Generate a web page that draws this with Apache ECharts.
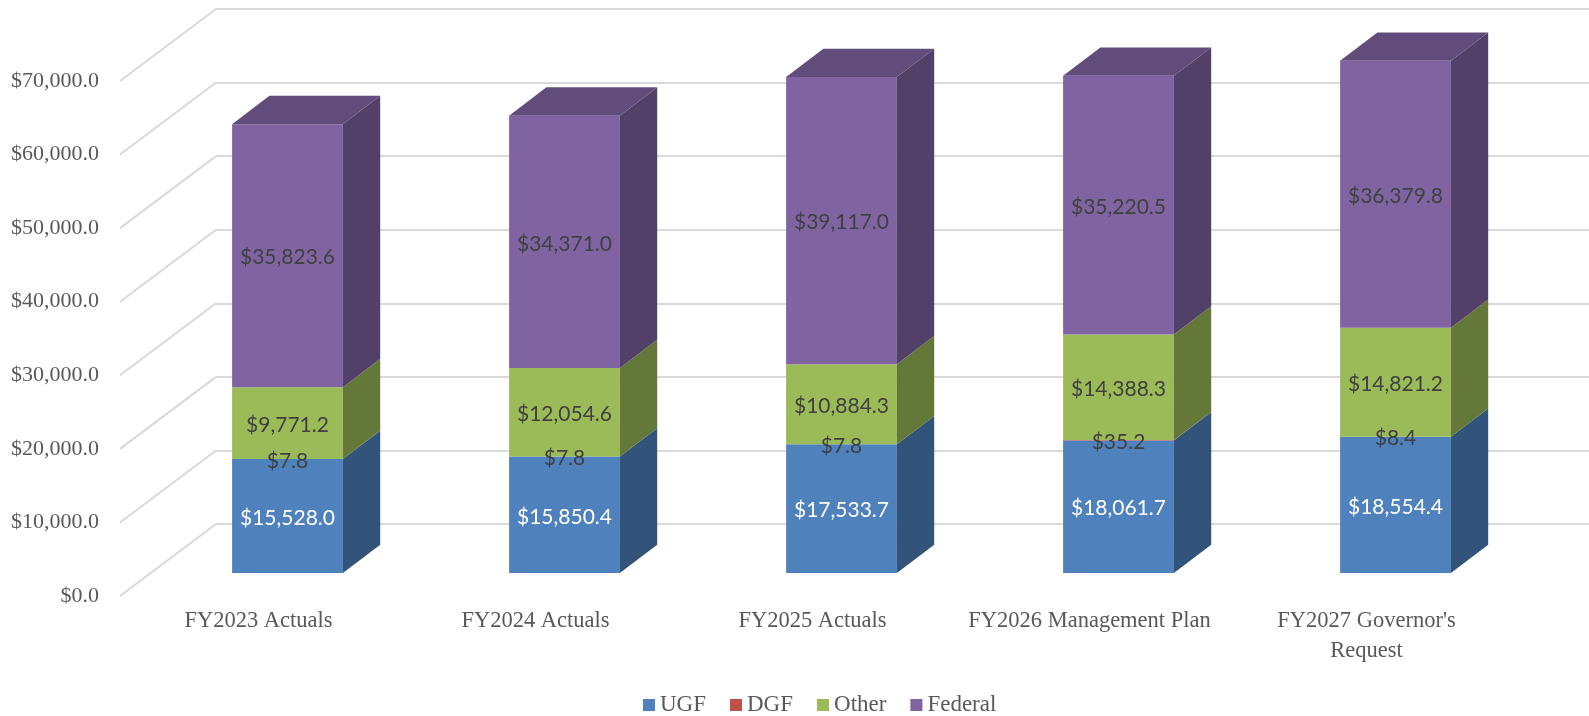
<!DOCTYPE html>
<html><head><meta charset="utf-8">
<script src="https://cdn.jsdelivr.net/npm/echarts@6/dist/echarts.min.js"></script>
<style>html,body{margin:0;padding:0;background:#fff}#c{width:1589px;height:716px}</style>
</head><body><div id="c"></div>
<script>
// ---- data ----
const categories = ['FY2023 Actuals', 'FY2024 Actuals', 'FY2025 Actuals', 'FY2026 Management Plan', "FY2027 Governor's Request"];
const seriesNames = ['UGF', 'DGF', 'Other', 'Federal'];
const ugf     = [15528.0, 15850.4, 17533.7, 18061.7, 18554.4];
const dgf     = [7.8, 7.8, 7.8, 35.2, 8.4];
const other   = [9771.2, 12054.6, 10884.3, 14388.3, 14821.2];
const federal = [35823.6, 34371.0, 39117.0, 35220.5, 36379.8];
const Y_MIN = 0, Y_MAX = 70000, Y_STEP = 10000;

// ---- style ----
const FRONT = ['#4F81BD', '#C0504D', '#9BBB59', '#8064A2'];
const SIDE  = ['#32537A', '#7B3331', '#637839', '#524068'];
const TOP   = ['#3B6190', '#923D3B', '#76903F', '#624C7B'];
const LABEL_COLOR = ['#FFFFFF', '#404040', '#404040', '#404040'];
const GRID_COLOR = '#D9D9D9';
const WALL_DX = 96, WALL_DY = -72;     // depth of the chart floor/side wall
const BAR_DX = 37.3, BAR_DY = -28.3;   // depth of each bar
const BAR_RATIO = 0.4;                 // bar width / category band
const LABEL_NUDGE = 2;                 // small downward shift of the data labels

const allSeries = [ugf, dgf, other, federal];
const fmt = v => '$' + v.toLocaleString('en-US', {minimumFractionDigits: 1, maximumFractionDigits: 1});

const bases = allSeries.map((s, k) => s.map((_, i) => {
  let b = 0; for (let j = 0; j < k; j++) b += allSeries[j][i]; return b;
}));

function barSeries(k) {
  const last = k === allSeries.length - 1;
  return {
    type: 'custom', name: seriesNames[k], xAxisIndex: 2, yAxisIndex: 2,
    itemStyle: {color: FRONT[k]},
    data: allSeries[k].map((v, i) => [i, bases[k][i], bases[k][i] + v, v]),
    encode: {x: 0, y: [1, 2]},
    renderItem(params, api) {
      const i = api.value(0);
      const lo = api.coord([i, api.value(1)]);
      const hi = api.coord([i, api.value(2)]);
      const w = api.size([1, 0])[0] * BAR_RATIO;
      const L = lo[0] - w / 2, R = lo[0] + w / 2, yb = lo[1], yt = hi[1];
      const children = [
        {type: 'rect', shape: {x: L, y: yt, width: w, height: yb - yt}, style: {fill: FRONT[k]}},
        {type: 'polygon', shape: {points: [[R, yb], [R + BAR_DX, yb + BAR_DY], [R + BAR_DX, yt + BAR_DY], [R, yt]]}, style: {fill: SIDE[k]}}
      ];
      if (last) {
        children.push({type: 'polygon', shape: {points: [[L, yt], [R, yt], [R + BAR_DX, yt + BAR_DY], [L + BAR_DX, yt + BAR_DY]]}, style: {fill: TOP[k]}});
      }
      children.push({type: 'text', z2: 50, style: {
        x: lo[0], y: (yb + yt) / 2 + LABEL_NUDGE, text: fmt(api.value(3)), align: 'center', verticalAlign: 'middle',
        fill: LABEL_COLOR[k], font: '21px Lato'}});
      return {type: 'group', children};
    }
  };
}

const ticks = [];
for (let v = Y_MIN; v <= Y_MAX; v += Y_STEP) ticks.push(v);

const serif = "'Liberation Serif', 'DejaVu Serif', serif";

const option = {
  animation: false,
  backgroundColor: '#fff',
  grid: [
    {left: 120, right: 84, top: 81, bottom: 120},   // front plane
    {left: 216, right: 0, top: 9, bottom: 192},     // back wall
    {left: 149, right: 55, top: 59, bottom: 143}    // bar plane
  ],
  xAxis: [
    {type: 'category', gridIndex: 0, data: categories, axisLine: {show: false}, axisTick: {show: false},
     axisLabel: {color: '#595959', fontFamily: serif, fontSize: 22.5, lineHeight: 30, margin: 10, interval: 0,
       formatter: v => v.length > 24 ? v.slice(0, v.lastIndexOf(' ')) + '\n' + v.slice(v.lastIndexOf(' ') + 1) : v}},
    {type: 'value', gridIndex: 1, show: false},
    {type: 'category', gridIndex: 2, data: categories, show: false}
  ],
  yAxis: [
    {type: 'value', gridIndex: 0, min: Y_MIN, max: Y_MAX, interval: Y_STEP, splitLine: {show: false},
     axisLine: {show: false}, axisTick: {show: false},
     axisLabel: {color: '#595959', fontFamily: serif, fontSize: 22, margin: 21, formatter: fmt}},
    {type: 'value', gridIndex: 1, min: Y_MIN, max: Y_MAX, interval: Y_STEP, axisLabel: {show: false},
     axisLine: {show: false}, axisTick: {show: false}, splitLine: {show: true, lineStyle: {color: GRID_COLOR, width: 2}}},
    {type: 'value', gridIndex: 2, min: Y_MIN, max: Y_MAX, show: false, splitLine: {show: false}}
  ],
  legend: {
    data: seriesNames, left: 643, top: 693, padding: 0, itemGap: 24, itemWidth: 12, itemHeight: 12, icon: 'rect',
    textStyle: {color: '#595959', fontFamily: serif, fontSize: 23, lineHeight: 24}
  },
  series: [
    {
      type: 'custom', xAxisIndex: 0, yAxisIndex: 0, silent: true, z: 1,
      data: ticks.map(v => [0, v]),
      renderItem(params, api) {
        const y = api.coord([0, api.value(1)])[1];
        const x0 = params.coordSys.x;
        return {type: 'line', shape: {x1: x0, y1: y, x2: x0 + WALL_DX, y2: y + WALL_DY},
                style: {stroke: GRID_COLOR, lineWidth: 2}};
      }
    },
    ...allSeries.map((_, k) => barSeries(k))
  ]
};

const chart = echarts.init(document.getElementById('c'), null, {renderer: 'canvas'});
chart.setOption(option);
</script>
</body></html>
